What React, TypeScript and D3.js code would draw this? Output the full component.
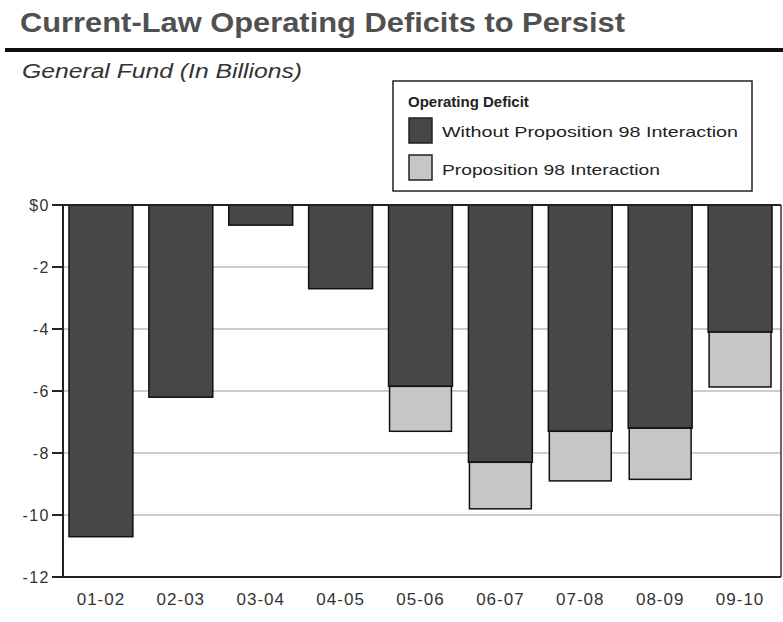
import React from "react";
import * as d3 from "d3";

const categories = ["01-02", "02-03", "03-04", "04-05", "05-06", "06-07", "07-08", "08-09", "09-10"];
const withoutProp98 = [-10.7, -6.2, -0.65, -2.7, -5.85, -8.3, -7.3, -7.2, -4.1];
const prop98Interaction = [0, 0, 0, 0, -1.45, -1.5, -1.6, -1.65, -1.77];
const yTicks = [0, -2, -4, -6, -8, -10, -12];
const seriesNames = ["Without Proposition 98 Interaction", "Proposition 98 Interaction"];
const seriesColors = ["#474747", "#c6c6c6"];

const W = 783;
const H = 622;
const plotLeft = 63;
const plotRight = 781;
const plotTop = 205;
const plotBottom = 577;

export default function App() {
  const x = d3.scaleBand<string>().domain(categories).range([61, 780]).paddingInner(0.2).paddingOuter(0.1);
  const y = d3.scaleLinear().domain([0, -12]).range([plotTop, plotBottom]);
  const font = "'Liberation Sans', Arial, sans-serif";

  const stacks = categories.map((c, i) => {
    const a = withoutProp98[i];
    const b = prop98Interaction[i];
    return { c, segs: [{ y0: 0, y1: a, k: 0 }, ...(b !== 0 ? [{ y0: a, y1: a + b, k: 1 }] : [])] };
  });

  return (
    <svg width={W} height={H} style={{ position: "absolute", left: 0, top: 0, background: "#fff" }}>
      <rect width={W} height={H} fill="#fff" />
      <text x={20} y={32} fontFamily={font} fontWeight="bold" fontSize={28} fill="#505050" textLength={605} lengthAdjust="spacingAndGlyphs">
        Current-Law Operating Deficits to Persist
      </text>
      <line x1={5} x2={W} y1={50} y2={50} stroke="#111" strokeWidth={4} />
      <text x={22} y={78} fontFamily={font} fontStyle="italic" fontSize={20} fill="#333" textLength={280} lengthAdjust="spacingAndGlyphs">
        General Fund (In Billions)
      </text>

      {/* gridlines */}
      {yTicks.filter((t) => t !== 0 && t !== -12).map((t) => (
        <line key={t} x1={plotLeft} x2={plotRight} y1={y(t)} y2={y(t)} stroke="#bdbdbd" strokeWidth={1.5} />
      ))}

      {/* bars */}
      {stacks.map((s) =>
        s.segs.map((seg, j) => {
          const bx = x(s.c)!;
          const bw = x.bandwidth();
          const inset = seg.k === 1 ? 1 : 0;
          return (
            <rect
              key={s.c + j}
              x={bx + inset}
              y={y(seg.y0)}
              width={bw - 2 * inset}
              height={y(seg.y1) - y(seg.y0)}
              fill={seriesColors[seg.k]}
              stroke="#111"
              strokeWidth={1.5}
            />
          );
        })
      )}

      {/* frame */}
      <line x1={plotLeft} x2={plotRight} y1={plotTop} y2={plotTop} stroke="#222" strokeWidth={2} />
      <line x1={plotLeft} x2={plotRight} y1={plotBottom} y2={plotBottom} stroke="#222" strokeWidth={2} />
      <line x1={plotLeft} x2={plotLeft} y1={plotTop} y2={plotBottom} stroke="#222" strokeWidth={2} />
      <line x1={plotRight} x2={plotRight} y1={plotTop} y2={plotBottom} stroke="#333" strokeWidth={1.5} />

      {/* y ticks */}
      {yTicks.map((t) => (
        <g key={t}>
          <line x1={52} x2={plotLeft} y1={y(t)} y2={y(t)} stroke="#222" strokeWidth={2} />
          <text x={50} y={y(t)} dy="0.36em" textAnchor="end" fontFamily={font} fontSize={16} letterSpacing={1.5} fill="#333">
            {t === 0 ? "$0" : String(t)}
          </text>
        </g>
      ))}

      {/* x labels */}
      {categories.map((c) => (
        <text key={c} x={x(c)! + x.bandwidth() / 2} y={605} textAnchor="middle" fontFamily={font} fontSize={17} letterSpacing={1} fill="#333">
          {c}
        </text>
      ))}

      {/* legend */}
      <rect x={393} y={81} width={359} height={110} fill="#fff" stroke="#222" strokeWidth={1.5} />
      <text x={408} y={107} fontFamily={font} fontWeight="bold" fontSize={15} fill="#222">
        Operating Deficit
      </text>
      {seriesNames.map((n, i) => (
        <g key={n}>
          <rect x={409} y={118 + i * 37} width={23} height={25} fill={seriesColors[i]} stroke="#222" strokeWidth={1.5} />
          <text x={442} y={137 + i * 38} fontFamily={font} fontSize={15} fill="#222" textLength={i === 0 ? 296 : 218} lengthAdjust="spacingAndGlyphs">
            {n}
          </text>
        </g>
      ))}
    </svg>
  );
}
